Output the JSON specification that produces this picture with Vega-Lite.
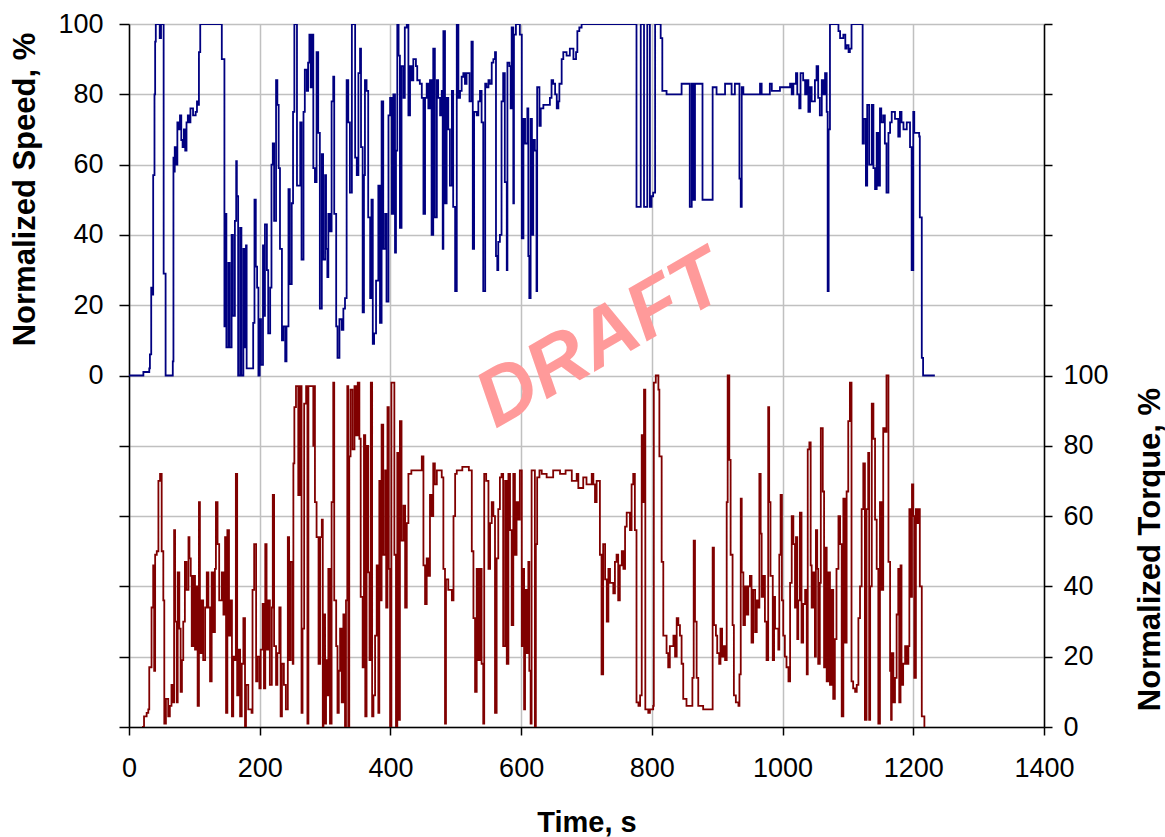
{
"$schema": "https://vega.github.io/schema/vega-lite/v6.json",
"width": 915, "height": 703,
"autosize": {"type": "none"},
"padding": {"left": 129, "top": 24, "right": 121, "bottom": 110},
"background": "white",
"config": {"view": {"stroke": null}, "font": "Liberation Sans",
 "axis": {"labelColor": "black", "titleColor": "black", "labelFont": "Liberation Sans", "titleFont": "Liberation Sans", "labelFontSize": 27, "titleFontSize": 29, "titleFontWeight": "bold", "domainColor": "black", "domainWidth": 1.5, "tickColor": "black", "tickWidth": 1.5, "gridColor": "#c0c0c0", "gridWidth": 1.5, "gridOpacity": 1, "labelFlush": false}},
"datasets": {
 "mark": [{"label": "DRAFT", "t": 722, "v": 10}],
 "speed": [{"t":0,"v":0},{"t":22,"v":1},{"t":31,"v":2},{"t":32,"v":6},{"t":34,"v":25},{"t":36,"v":23},{"t":37,"v":57},{"t":39,"v":80},{"t":40,"v":95},{"t":41,"v":100},{"t":45,"v":100},{"t":47,"v":96},{"t":49,"v":100},{"t":53,"v":29},{"t":56,"v":0},{"t":67,"v":4},{"t":68,"v":62},{"t":69,"v":58},{"t":70,"v":65},{"t":72,"v":60},{"t":74,"v":72},{"t":76,"v":70},{"t":78,"v":74},{"t":80,"v":67},{"t":82,"v":65},{"t":84,"v":70},{"t":86,"v":64},{"t":88,"v":72},{"t":90,"v":74},{"t":92,"v":72},{"t":94,"v":76},{"t":98,"v":74},{"t":102,"v":75},{"t":104,"v":78},{"t":106,"v":77},{"t":107,"v":92},{"t":109,"v":100},{"t":142,"v":90},{"t":146,"v":14},{"t":147,"v":46},{"t":149,"v":8},{"t":152,"v":32},{"t":154,"v":8},{"t":157,"v":40},{"t":159,"v":17},{"t":162,"v":44},{"t":164,"v":61},{"t":165,"v":51},{"t":167,"v":0},{"t":170,"v":42},{"t":172,"v":0},{"t":175,"v":36},{"t":177,"v":8},{"t":179,"v":37},{"t":180,"v":2},{"t":190,"v":15},{"t":192,"v":50},{"t":194,"v":31},{"t":196,"v":25},{"t":198,"v":0},{"t":200,"v":16},{"t":202,"v":3},{"t":205,"v":37},{"t":207,"v":17},{"t":208,"v":43},{"t":211,"v":30},{"t":213,"v":12},{"t":216,"v":25},{"t":218,"v":60},{"t":220,"v":66},{"t":222,"v":44},{"t":225,"v":84},{"t":227,"v":77},{"t":229,"v":59},{"t":231,"v":36},{"t":234,"v":10},{"t":236,"v":14},{"t":239,"v":4},{"t":241,"v":14},{"t":244,"v":53},{"t":246,"v":26},{"t":249,"v":49},{"t":251,"v":75},{"t":253,"v":100},{"t":257,"v":54},{"t":262,"v":72},{"t":264,"v":33},{"t":267,"v":75},{"t":269,"v":87},{"t":272,"v":81},{"t":274,"v":89},{"t":276,"v":97},{"t":278,"v":82},{"t":279.5,"v":97},{"t":282,"v":59},{"t":284.5,"v":55},{"t":287,"v":92},{"t":289.5,"v":69},{"t":292,"v":19},{"t":295,"v":63},{"t":297,"v":33},{"t":300,"v":57},{"t":301.5,"v":36},{"t":303.5,"v":28},{"t":305,"v":46},{"t":307.5,"v":41},{"t":310,"v":78},{"t":312.5,"v":85},{"t":314,"v":46},{"t":317,"v":14},{"t":319,"v":5},{"t":322,"v":16},{"t":325.5,"v":13},{"t":328,"v":19},{"t":330.5,"v":22},{"t":333,"v":84},{"t":335.5,"v":72},{"t":338,"v":52},{"t":341,"v":100},{"t":346,"v":62},{"t":348.5,"v":57},{"t":351,"v":86},{"t":353.5,"v":93},{"t":355,"v":65},{"t":357.5,"v":18},{"t":359.5,"v":57},{"t":361,"v":84},{"t":363.5,"v":81},{"t":366,"v":45},{"t":369,"v":22},{"t":371,"v":50},{"t":373,"v":9},{"t":375,"v":12},{"t":378,"v":27},{"t":381.5,"v":54},{"t":384,"v":15},{"t":386.5,"v":78},{"t":389,"v":36},{"t":392,"v":46},{"t":394,"v":21},{"t":397,"v":74},{"t":399.5,"v":79},{"t":402,"v":46},{"t":404.5,"v":80},{"t":407,"v":35},{"t":408.5,"v":64},{"t":410.5,"v":100},{"t":412.5,"v":91},{"t":414.5,"v":42},{"t":417,"v":88},{"t":420,"v":79},{"t":422,"v":99},{"t":425,"v":100},{"t":427.5,"v":74},{"t":430,"v":88},{"t":432.5,"v":84},{"t":435,"v":90},{"t":439,"v":88},{"t":441,"v":84},{"t":445,"v":83},{"t":448,"v":79},{"t":450.5,"v":46},{"t":453,"v":79},{"t":455.5,"v":83},{"t":458,"v":76},{"t":460.5,"v":84},{"t":463,"v":40},{"t":465.5,"v":93},{"t":468,"v":45},{"t":471,"v":84},{"t":473,"v":79},{"t":476,"v":74},{"t":478.5,"v":81},{"t":480,"v":36},{"t":481,"v":98},{"t":483.5,"v":49},{"t":486,"v":79},{"t":488.5,"v":70},{"t":491,"v":54},{"t":494,"v":81},{"t":496,"v":48},{"t":499,"v":24},{"t":501.5,"v":100},{"t":504,"v":79},{"t":506.5,"v":81},{"t":509,"v":85},{"t":511.5,"v":86},{"t":514,"v":83},{"t":516.5,"v":86},{"t":521,"v":78},{"t":524,"v":95},{"t":526,"v":36},{"t":528,"v":75},{"t":532,"v":74},{"t":534.5,"v":78},{"t":537,"v":81},{"t":539.5,"v":72},{"t":542,"v":24},{"t":545,"v":83},{"t":547,"v":82},{"t":550,"v":84},{"t":552,"v":83},{"t":555,"v":89},{"t":557.5,"v":90},{"t":560,"v":92},{"t":561.5,"v":34},{"t":563.5,"v":30},{"t":565,"v":38},{"t":567.5,"v":40},{"t":570,"v":78},{"t":572.5,"v":86},{"t":575,"v":55},{"t":578,"v":30},{"t":579,"v":89},{"t":582,"v":88},{"t":584,"v":76},{"t":585.5,"v":99},{"t":588,"v":49},{"t":589,"v":97},{"t":592,"v":100},{"t":598,"v":97},{"t":601,"v":39},{"t":603.5,"v":73},{"t":606,"v":66},{"t":609.5,"v":76},{"t":611,"v":34},{"t":612.5,"v":22},{"t":614.5,"v":73},{"t":616.5,"v":40},{"t":618.5,"v":67},{"t":621,"v":64},{"t":623.5,"v":24},{"t":624.5,"v":82},{"t":628,"v":71},{"t":630,"v":76},{"t":634,"v":77},{"t":644,"v":79},{"t":646.5,"v":84},{"t":649,"v":83},{"t":652,"v":80},{"t":654.5,"v":76},{"t":657,"v":78},{"t":658.5,"v":83},{"t":662,"v":90},{"t":664.5,"v":92},{"t":669.5,"v":91},{"t":674.5,"v":93},{"t":680,"v":90},{"t":684,"v":92},{"t":686,"v":98},{"t":689,"v":99},{"t":692.5,"v":100},{"t":776.5,"v":48},{"t":783,"v":100},{"t":788,"v":48},{"t":793,"v":100},{"t":797,"v":48},{"t":799.5,"v":51},{"t":802,"v":52},{"t":805,"v":100},{"t":813.5,"v":96},{"t":816,"v":81},{"t":822.5,"v":80},{"t":845.5,"v":83},{"t":858,"v":48},{"t":861,"v":83},{"t":863.5,"v":50},{"t":866,"v":83},{"t":877.5,"v":50},{"t":891.5,"v":50},{"t":893,"v":82},{"t":899,"v":80},{"t":912,"v":83},{"t":922,"v":80},{"t":927,"v":83},{"t":934,"v":56},{"t":936,"v":48},{"t":937.5,"v":82},{"t":940,"v":80},{"t":965.5,"v":83},{"t":968,"v":80},{"t":980.5,"v":83},{"t":983.5,"v":81},{"t":996,"v":82},{"t":1011.5,"v":83},{"t":1014,"v":80},{"t":1016.5,"v":83},{"t":1020.5,"v":86},{"t":1022.5,"v":80},{"t":1025.5,"v":76},{"t":1027.5,"v":86},{"t":1031.5,"v":84},{"t":1034.5,"v":80},{"t":1037,"v":84},{"t":1039.5,"v":75},{"t":1042,"v":82},{"t":1044.5,"v":78},{"t":1049.5,"v":84},{"t":1052,"v":88},{"t":1054.5,"v":79},{"t":1057,"v":74},{"t":1060,"v":84},{"t":1062.5,"v":80},{"t":1065,"v":86},{"t":1067.5,"v":75},{"t":1069,"v":24},{"t":1070.5,"v":70},{"t":1072.5,"v":100},{"t":1085.5,"v":98},{"t":1088,"v":96},{"t":1093,"v":97},{"t":1096,"v":93},{"t":1098,"v":94},{"t":1101,"v":92},{"t":1103,"v":93},{"t":1105.5,"v":100},{"t":1122.5,"v":66},{"t":1124.5,"v":73},{"t":1127.5,"v":54},{"t":1129.5,"v":77},{"t":1132.5,"v":60},{"t":1136.5,"v":77},{"t":1139,"v":59},{"t":1141.5,"v":53},{"t":1144,"v":69},{"t":1146.5,"v":54},{"t":1149,"v":76},{"t":1151,"v":72},{"t":1154,"v":74},{"t":1156.5,"v":66},{"t":1159,"v":52},{"t":1162,"v":69},{"t":1164.5,"v":72},{"t":1167,"v":75},{"t":1172,"v":73},{"t":1177,"v":68},{"t":1179.5,"v":75},{"t":1182,"v":72},{"t":1185,"v":70},{"t":1190,"v":72},{"t":1195,"v":65},{"t":1197.5,"v":30},{"t":1200,"v":75},{"t":1201.5,"v":69},{"t":1209,"v":68},{"t":1210,"v":45},{"t":1213,"v":5},{"t":1215,"v":0},{"t":1233,"v":0}],
 "torque": [{"t":20,"v":0},{"t":23,"v":3},{"t":27,"v":4},{"t":29.5,"v":5},{"t":31,"v":17},{"t":34.5,"v":34},{"t":37,"v":46},{"t":38.5,"v":16},{"t":40,"v":49},{"t":42.5,"v":50},{"t":45,"v":70},{"t":47.5,"v":72},{"t":50,"v":50},{"t":52.5,"v":36},{"t":54,"v":1},{"t":56.5,"v":8},{"t":60,"v":3},{"t":62.5,"v":6},{"t":65,"v":12},{"t":67,"v":7},{"t":69,"v":56},{"t":70.5,"v":30},{"t":73,"v":7},{"t":74.5,"v":44},{"t":77,"v":28},{"t":79,"v":10},{"t":81,"v":19},{"t":83,"v":30},{"t":85.5,"v":47},{"t":88,"v":39},{"t":91,"v":54},{"t":92.5,"v":48},{"t":94.5,"v":43},{"t":96,"v":23},{"t":98.5,"v":43},{"t":101,"v":22},{"t":103.5,"v":40},{"t":105,"v":6},{"t":107,"v":64},{"t":108.5,"v":21},{"t":111,"v":36},{"t":113.5,"v":19},{"t":116.5,"v":34},{"t":119,"v":44},{"t":121.5,"v":34},{"t":124,"v":13},{"t":126.5,"v":44},{"t":129,"v":27},{"t":131.5,"v":45},{"t":133,"v":64},{"t":135.5,"v":52},{"t":138,"v":36},{"t":142,"v":44},{"t":144.5,"v":32},{"t":147,"v":54},{"t":148.5,"v":4},{"t":150.5,"v":56},{"t":153,"v":26},{"t":155.5,"v":36},{"t":157.5,"v":3},{"t":159.5,"v":20},{"t":162,"v":19},{"t":163.5,"v":72},{"t":165.5,"v":9},{"t":167.5,"v":22},{"t":170,"v":3},{"t":172.5,"v":18},{"t":175,"v":31},{"t":177.5,"v":0},{"t":179,"v":12},{"t":182.5,"v":5},{"t":187.5,"v":4},{"t":189,"v":39},{"t":191.5,"v":52},{"t":194.5,"v":13},{"t":196.5,"v":20},{"t":199.5,"v":11},{"t":201.5,"v":22},{"t":204.5,"v":35},{"t":206.5,"v":11},{"t":208.5,"v":52},{"t":210.5,"v":22},{"t":213,"v":36},{"t":215.5,"v":12},{"t":218.5,"v":34},{"t":220,"v":66},{"t":222,"v":23},{"t":225,"v":12},{"t":227,"v":21},{"t":230,"v":34},{"t":232,"v":3},{"t":234,"v":18},{"t":237,"v":12},{"t":240,"v":5},{"t":243,"v":54},{"t":245,"v":19},{"t":247.5,"v":47},{"t":250.5,"v":18},{"t":251.5,"v":75},{"t":253,"v":91},{"t":255.5,"v":97},{"t":259,"v":66},{"t":261.5,"v":97},{"t":264,"v":4},{"t":265.5,"v":28},{"t":268,"v":92},{"t":271,"v":97},{"t":273,"v":1},{"t":274.5,"v":97},{"t":282,"v":80},{"t":283,"v":97},{"t":284.5,"v":64},{"t":287,"v":54},{"t":290,"v":18},{"t":292.5,"v":54},{"t":295,"v":59},{"t":296.5,"v":0},{"t":297.5,"v":32},{"t":300,"v":1},{"t":301.5,"v":19},{"t":303.5,"v":9},{"t":305,"v":45},{"t":307.5,"v":1},{"t":310,"v":64},{"t":312.5,"v":98},{"t":314,"v":36},{"t":317,"v":23},{"t":319,"v":4},{"t":321,"v":16},{"t":323,"v":28},{"t":325.5,"v":7},{"t":328,"v":32},{"t":330.5,"v":0},{"t":332,"v":36},{"t":334,"v":97},{"t":335.5,"v":0},{"t":337,"v":77},{"t":339,"v":96},{"t":342,"v":79},{"t":345,"v":97},{"t":347.5,"v":83},{"t":350,"v":98},{"t":352.5,"v":82},{"t":354.5,"v":37},{"t":357.5,"v":17},{"t":359.5,"v":83},{"t":361.5,"v":3},{"t":363.5,"v":80},{"t":366,"v":44},{"t":368,"v":19},{"t":370,"v":98},{"t":372,"v":3},{"t":374,"v":9},{"t":376.5,"v":26},{"t":379,"v":46},{"t":381.5,"v":4},{"t":383,"v":70},{"t":385,"v":36},{"t":386.5,"v":86},{"t":389,"v":49},{"t":392,"v":73},{"t":393.5,"v":34},{"t":395.5,"v":91},{"t":397.5,"v":45},{"t":399.5,"v":0},{"t":401.5,"v":98},{"t":406,"v":49},{"t":408.5,"v":0},{"t":410.5,"v":78},{"t":412.5,"v":2},{"t":414.5,"v":87},{"t":417,"v":53},{"t":420,"v":63},{"t":422.5,"v":34},{"t":425,"v":58},{"t":427.5,"v":72},{"t":432,"v":73},{"t":440,"v":73},{"t":448,"v":77},{"t":450.5,"v":46},{"t":453,"v":35},{"t":455.5,"v":48},{"t":458,"v":43},{"t":460.5,"v":66},{"t":463,"v":60},{"t":465.5,"v":75},{"t":468,"v":69},{"t":471,"v":73},{"t":478.5,"v":71},{"t":481,"v":45},{"t":483.5,"v":1},{"t":485,"v":42},{"t":488.5,"v":39},{"t":494,"v":36},{"t":496.5,"v":60},{"t":499,"v":72},{"t":501.5,"v":73},{"t":510,"v":74},{"t":520,"v":73},{"t":524.5,"v":50},{"t":527,"v":31},{"t":529.5,"v":10},{"t":532,"v":45},{"t":534.5,"v":19},{"t":537,"v":45},{"t":539.5,"v":18},{"t":542,"v":1},{"t":543.5,"v":72},{"t":546.5,"v":70},{"t":550,"v":45},{"t":552.5,"v":58},{"t":555,"v":64},{"t":557.5,"v":60},{"t":560,"v":4},{"t":562.5,"v":48},{"t":565,"v":62},{"t":567.5,"v":71},{"t":570,"v":72},{"t":572.5,"v":23},{"t":575.5,"v":70},{"t":578,"v":18},{"t":580.5,"v":72},{"t":583,"v":56},{"t":585.5,"v":29},{"t":588,"v":72},{"t":590.5,"v":49},{"t":593,"v":64},{"t":595.5,"v":59},{"t":598,"v":73},{"t":601,"v":23},{"t":602.5,"v":45},{"t":604.5,"v":5},{"t":606,"v":39},{"t":608.5,"v":21},{"t":611,"v":47},{"t":612.5,"v":16},{"t":614.5,"v":1},{"t":616,"v":73},{"t":621,"v":0},{"t":622.5,"v":52},{"t":624.5,"v":71},{"t":628,"v":73},{"t":631.5,"v":72},{"t":639,"v":71},{"t":649,"v":73},{"t":659.5,"v":72},{"t":668,"v":73},{"t":677.5,"v":70},{"t":685,"v":72},{"t":687.5,"v":68},{"t":695,"v":71},{"t":700,"v":69},{"t":708,"v":72},{"t":710.5,"v":69},{"t":713,"v":64},{"t":715.5,"v":70},{"t":720.5,"v":49},{"t":723,"v":15},{"t":725.5,"v":52},{"t":728.5,"v":42},{"t":731,"v":30},{"t":733.5,"v":45},{"t":736,"v":41},{"t":741,"v":38},{"t":743.5,"v":47},{"t":746,"v":49},{"t":748.5,"v":36},{"t":751,"v":46},{"t":754,"v":50},{"t":756.5,"v":45},{"t":759,"v":57},{"t":761.5,"v":61},{"t":766.5,"v":56},{"t":769,"v":69},{"t":771.5,"v":72},{"t":774,"v":56},{"t":776.5,"v":7},{"t":779.5,"v":6},{"t":782,"v":9},{"t":784.5,"v":83},{"t":786,"v":64},{"t":788,"v":96},{"t":790,"v":5},{"t":794.5,"v":4},{"t":797,"v":5},{"t":802,"v":6},{"t":803,"v":98},{"t":806,"v":100},{"t":810,"v":96},{"t":811.5,"v":77},{"t":815,"v":47},{"t":817.5,"v":26},{"t":822.5,"v":21},{"t":825,"v":17},{"t":827.5,"v":23},{"t":833,"v":26},{"t":835.5,"v":20},{"t":838,"v":31},{"t":840.5,"v":29},{"t":843,"v":26},{"t":845.5,"v":18},{"t":848,"v":8},{"t":853,"v":6},{"t":862,"v":14},{"t":864,"v":53},{"t":866,"v":30},{"t":868.5,"v":14},{"t":871,"v":6},{"t":878.5,"v":5},{"t":893,"v":51},{"t":895,"v":29},{"t":898,"v":26},{"t":900,"v":21},{"t":903,"v":18},{"t":905,"v":28},{"t":907.5,"v":20},{"t":909.5,"v":23},{"t":912,"v":19},{"t":914.5,"v":64},{"t":916,"v":100},{"t":918.5,"v":76},{"t":920.5,"v":49},{"t":923.5,"v":29},{"t":925.5,"v":9},{"t":928.5,"v":7},{"t":932.5,"v":6},{"t":934,"v":15},{"t":936,"v":65},{"t":937.5,"v":44},{"t":940,"v":29},{"t":942.5,"v":40},{"t":945,"v":32},{"t":947.5,"v":40},{"t":950,"v":43},{"t":952.5,"v":24},{"t":955,"v":39},{"t":958,"v":27},{"t":960.5,"v":36},{"t":963,"v":34},{"t":964.5,"v":72},{"t":966.5,"v":55},{"t":968,"v":37},{"t":970.5,"v":43},{"t":973,"v":30},{"t":975.5,"v":19},{"t":978,"v":91},{"t":979.5,"v":64},{"t":981.5,"v":43},{"t":985,"v":19},{"t":987,"v":37},{"t":988.5,"v":28},{"t":993.5,"v":22},{"t":995,"v":49},{"t":997,"v":66},{"t":999,"v":36},{"t":1001,"v":26},{"t":1003.5,"v":20},{"t":1006,"v":17},{"t":1009,"v":13},{"t":1011.5,"v":41},{"t":1014,"v":60},{"t":1016.5,"v":52},{"t":1019,"v":34},{"t":1020.5,"v":54},{"t":1022.5,"v":25},{"t":1024,"v":36},{"t":1026.5,"v":61},{"t":1029,"v":24},{"t":1031.5,"v":35},{"t":1034.5,"v":39},{"t":1037,"v":15},{"t":1038.5,"v":79},{"t":1041,"v":81},{"t":1043,"v":46},{"t":1044.5,"v":34},{"t":1047,"v":44},{"t":1049.5,"v":20},{"t":1051,"v":56},{"t":1053,"v":45},{"t":1054.5,"v":18},{"t":1057,"v":41},{"t":1058.5,"v":85},{"t":1061.5,"v":67},{"t":1063.5,"v":17},{"t":1065,"v":51},{"t":1067.5,"v":13},{"t":1070,"v":44},{"t":1072.5,"v":12},{"t":1075,"v":39},{"t":1077.5,"v":8},{"t":1080,"v":25},{"t":1082.5,"v":45},{"t":1085.5,"v":60},{"t":1088,"v":52},{"t":1090.5,"v":3},{"t":1093,"v":65},{"t":1095.5,"v":24},{"t":1098,"v":67},{"t":1100.5,"v":87},{"t":1103,"v":98},{"t":1105.5,"v":13},{"t":1108,"v":11},{"t":1111,"v":10},{"t":1113.5,"v":12},{"t":1116,"v":31},{"t":1118.5,"v":40},{"t":1121,"v":62},{"t":1123.5,"v":75},{"t":1126,"v":2},{"t":1128.5,"v":62},{"t":1131,"v":78},{"t":1132.5,"v":2},{"t":1134,"v":40},{"t":1136.5,"v":92},{"t":1139,"v":82},{"t":1141.5,"v":59},{"t":1144,"v":45},{"t":1146.5,"v":1},{"t":1149,"v":64},{"t":1151.5,"v":39},{"t":1154,"v":85},{"t":1156.5,"v":84},{"t":1159,"v":100},{"t":1162,"v":47},{"t":1164.5,"v":16},{"t":1166,"v":2},{"t":1167,"v":21},{"t":1169.5,"v":7},{"t":1172,"v":14},{"t":1174.5,"v":32},{"t":1177,"v":45},{"t":1178.5,"v":7},{"t":1180.5,"v":46},{"t":1182,"v":12},{"t":1184.5,"v":18},{"t":1187.5,"v":23},{"t":1190,"v":18},{"t":1192.5,"v":23},{"t":1194,"v":62},{"t":1196,"v":37},{"t":1198,"v":69},{"t":1200,"v":60},{"t":1201.5,"v":14},{"t":1204,"v":62},{"t":1206.5,"v":58},{"t":1209,"v":62},{"t":1210,"v":40},{"t":1213,"v":3},{"t":1217,"v":0}]
},
"encoding": {"x": {"field": "t", "type": "quantitative", "scale": {"domain": [0, 1400], "nice": false},
 "axis": {"values": [0,200,400,600,800,1000,1200,1400], "format": "d", "title": "Time, s", "grid": true, "tickSize": 8, "labelPadding": 20, "titleY": 95, "titleBaseline": "middle"}}},
"layer": [
 {"data": {"name": "mark"}, "mark": {"type": "text", "angle": 330, "font": "Liberation Sans", "fontWeight": "bold", "fontStyle": "italic", "fontSize": 80, "color": "#ff9a9a", "align": "center", "baseline": "middle"},
  "encoding": {"y": {"field": "v", "type": "quantitative", "scale": {"domain": [-100, 100], "nice": false}, "axis": null}, "text": {"field": "label"}}},
 {"data": {"name": "speed"}, "mark": {"type": "line", "interpolate": "step-after", "color": "#000080", "strokeWidth": 1.8, "clip": true},
  "encoding": {"y": {"field": "v", "type": "quantitative", "scale": {"domain": [-100, 100], "nice": false},
   "axis": {"orient": "left", "values": [-100,-80,-60,-40,-20,0,20,40,60,80,100], "labelExpr": "datum.value >= 0 ? datum.label : ''", "format": "d", "grid": true, "tickSize": 10, "labelPadding": 16, "title": "Normalized Speed, %", "titleFontSize": 31, "titleX": -104, "titleY": 165, "titleAngle": 270, "titleAlign": "center", "titleBaseline": "middle"}}}},
 {"data": {"name": "torque"}, "mark": {"type": "line", "interpolate": "step-after", "color": "#800000", "strokeWidth": 1.8, "clip": true},
  "encoding": {"y": {"field": "v", "type": "quantitative", "scale": {"domain": [0, 200], "nice": false},
   "axis": {"orient": "right", "values": [0,20,40,60,80,100,120,140,160,180,200], "labelExpr": "datum.value <= 100 ? datum.label : ''", "format": "d", "grid": false, "tickSize": 8, "labelPadding": 11, "title": "Normalized Torque, %", "titleFontSize": 31, "titleX": 106, "titleY": 525, "titleAngle": 270, "titleAlign": "center", "titleBaseline": "middle"}}}}
],
"resolve": {"scale": {"y": "independent"}}
}
